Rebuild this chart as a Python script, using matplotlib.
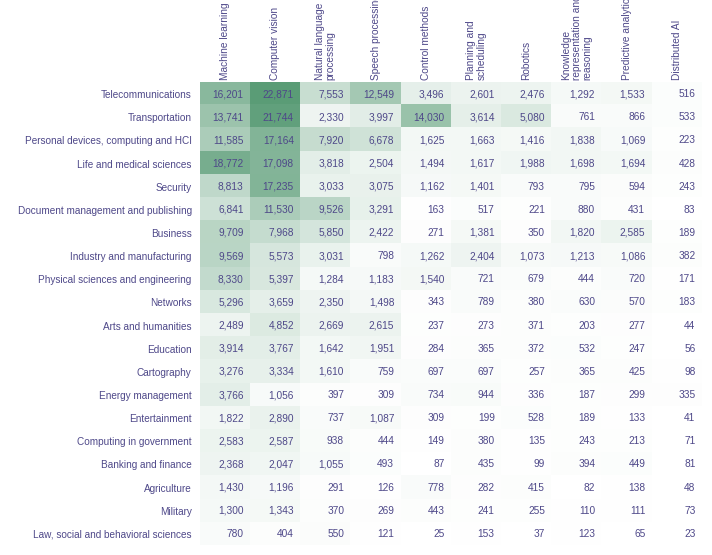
import matplotlib
matplotlib.use("Agg")
import matplotlib.pyplot as plt
import numpy as np
from matplotlib.colors import LinearSegmentedColormap

rows = ["Telecommunications", "Transportation", "Personal devices, computing and HCI",
        "Life and medical sciences", "Security", "Document management and publishing",
        "Business", "Industry and manufacturing", "Physical sciences and engineering",
        "Networks", "Arts and humanities", "Education", "Cartography", "Energy management",
        "Entertainment", "Computing in government", "Banking and finance", "Agriculture",
        "Military", "Law, social and behavioral sciences"]

cols = ["Machine learning", "Computer vision", "Natural language\nprocessing",
        "Speech processing", "Control methods", "Planning and\nscheduling", "Robotics",
        "Knowledge\nrepresentation and\nreasoning", "Predictive analytics", "Distributed AI"]

machine_learning = [16201, 13741, 11585, 18772, 8813, 6841, 9709, 9569, 8330, 5296, 2489, 3914, 3276, 3766, 1822, 2583, 2368, 1430, 1300, 780]
computer_vision = [22871, 21744, 17164, 17098, 17235, 11530, 7968, 5573, 5397, 3659, 4852, 3767, 3334, 1056, 2890, 2587, 2047, 1196, 1343, 404]
nlp = [7553, 2330, 7920, 3818, 3033, 9526, 5850, 3031, 1284, 2350, 2669, 1642, 1610, 397, 737, 938, 1055, 291, 370, 550]
speech = [12549, 3997, 6678, 2504, 3075, 3291, 2422, 798, 1183, 1498, 2615, 1951, 759, 309, 1087, 444, 493, 126, 269, 121]
control = [3496, 14030, 1625, 1494, 1162, 163, 271, 1262, 1540, 343, 237, 284, 697, 734, 309, 149, 87, 778, 443, 25]
planning = [2601, 3614, 1663, 1617, 1401, 517, 1381, 2404, 721, 789, 273, 365, 697, 944, 199, 380, 435, 282, 241, 153]
robotics = [2476, 5080, 1416, 1988, 793, 221, 350, 1073, 679, 380, 371, 372, 257, 336, 528, 135, 99, 415, 255, 37]
knowledge = [1292, 761, 1838, 1698, 795, 880, 1820, 1213, 444, 630, 203, 532, 365, 187, 189, 243, 394, 82, 110, 123]
predictive = [1533, 866, 1069, 1694, 594, 431, 2585, 1086, 720, 570, 277, 247, 425, 299, 133, 213, 449, 138, 111, 65]
distributed = [516, 533, 223, 428, 243, 83, 189, 382, 171, 183, 44, 56, 98, 335, 41, 71, 81, 48, 73, 23]

data = np.array([machine_learning, computer_vision, nlp, speech, control, planning,
                 robotics, knowledge, predictive, distributed]).T

W, H = 712, 555
fig = plt.figure(figsize=(W / 100, H / 100), dpi=100)
left, right, top, bottom = 200, 702, 82.5, 545.5
ax = fig.add_axes([left / W, 1 - bottom / H, (right - left) / W, (bottom - top) / H])

cmap = LinearSegmentedColormap.from_list("wg", ["#ffffff", "#5a9c76"])
nr, nc = data.shape
ax.imshow(data, cmap=cmap, vmin=0, vmax=data.max(), aspect="auto",
          extent=(0, nc, nr, 0), interpolation="nearest")
ax.set_xlim(0, nc)
ax.set_ylim(nr, 0)

txt = "#4e4889"
font = "Liberation Sans"
for i in range(nr):
    for j in range(nc):
        ax.text(j + 1 - 0.13, i + 0.5, f"{data[i, j]:,}", ha="right", va="center",
                fontsize=7.3, color=txt, family=font)

for j, c in enumerate(cols):
    ax.text(j + 0.5, -0.1, c, rotation=90, ha="center", va="bottom",
            multialignment="left", fontsize=7.3, color=txt, family=font,
            linespacing=1.1, clip_on=False)

ax.set_yticks(np.arange(nr) + 0.5)
ax.set_yticklabels(rows, fontsize=7.2, color=txt, family=font)
ax.tick_params(axis="y", length=0, pad=6)
ax.set_xticks([])
for s in ax.spines.values():
    s.set_visible(False)

fig.savefig("out.png", dpi=100)
